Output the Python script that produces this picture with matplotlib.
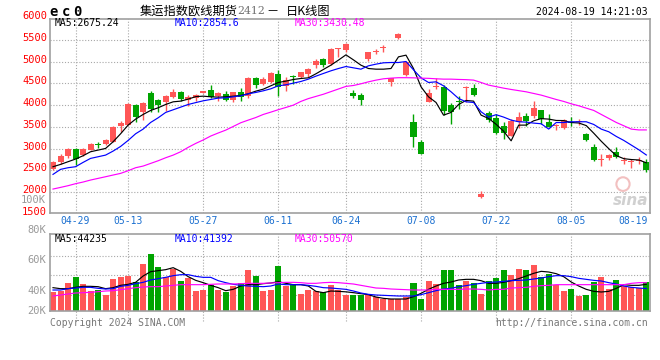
import matplotlib
matplotlib.use("Agg")
import matplotlib.pyplot as plt
import numpy as np
from matplotlib.transforms import blended_transform_factory, offset_copy
from matplotlib.patches import Ellipse

# ---------------- data ----------------
dates = ['04-24', '04-25', '04-26', '04-29', '04-30', '05-06', '05-07', '05-08', '05-09', '05-10',
         '05-13', '05-14', '05-15', '05-16', '05-17', '05-20', '05-21', '05-22', '05-23', '05-24',
         '05-27', '05-28', '05-29', '05-30', '05-31', '06-03', '06-04', '06-05', '06-06', '06-07',
         '06-11', '06-12', '06-13', '06-14', '06-17', '06-18', '06-19', '06-20', '06-21', '06-24',
         '06-25', '06-26', '06-27', '06-28', '07-01', '07-02', '07-03', '07-04', '07-05', '07-08',
         '07-09', '07-10', '07-11', '07-12', '07-15', '07-16', '07-17', '07-18', '07-19', '07-22',
         '07-23', '07-24', '07-25', '07-26', '07-29', '07-30', '07-31', '08-01', '08-02', '08-05',
         '08-06', '08-07', '08-08', '08-09', '08-12', '08-13', '08-14', '08-15', '08-16', '08-19']

opens = [2540, 2700, 2837, 2990, 2852, 2975, 3105, 3105, 3158, 3510,
         3541, 4000, 3847, 4275, 4107, 4061, 4191, 4306, 4122, 4153,
         4275, 4337, 4199, 4260, 4122, 4291, 4199, 4612, 4474, 4535,
         4719, 4428, 4673, 4643, 4719, 4918, 5056, 4949, 5293, 5255,
         4275, 4230, 5071, 5232, 5324, 4520, 5545, 4688, 3602, 3158,
         4076, 4428, 4413, 4000, 4099, 4390, 4398, 1889, 3816, 3709,
         3510, 3296, 3602, 3755, 3755, 3878, 3602, 3518, 3465, 3618,
         3610, 3342, 3036, 2745, 2791, 2914, 2730, 2700, 2730, 2700]
highs = [2715, 2868, 3021, 3021, 3005, 3128, 3158, 3220, 3510, 3633,
         4046, 4031, 4061, 4321, 4138, 4230, 4367, 4321, 4230, 4260,
         4330, 4459, 4306, 4321, 4306, 4382, 4650, 4643, 4643, 4765,
         4796, 4643, 4688, 4765, 4857, 5071, 5086, 5316, 5316, 5423,
         4337, 4275, 5224, 5300, 5392, 4627, 5668, 5010, 3801, 3204,
         4367, 4612, 4459, 4046, 4214, 4444, 4490, 2026, 3862, 3801,
         3618, 3679, 3832, 3816, 4092, 3893, 3801, 3572, 3679, 3725,
         3679, 3357, 3113, 2883, 2868, 3036, 2807, 2761, 2807, 2761]
lows = [2500, 2654, 2776, 2623, 2822, 2960, 3005, 3082, 3143, 3388,
        3535, 3618, 3663, 3847, 3832, 3870, 4168, 4092, 3985, 4092,
        4268, 4168, 4092, 4092, 4061, 4092, 4153, 4382, 4459, 4505,
        4199, 4321, 4474, 4612, 4643, 4857, 4887, 4933, 5117, 5224,
        4168, 4000, 5025, 5163, 5209, 4428, 5530, 4660, 3044, 2870,
        4061, 4367, 3770, 3572, 3908, 4076, 4199, 1858, 3602, 3342,
        3220, 3281, 3465, 3510, 3694, 3557, 3495, 3419, 3449, 3510,
        3541, 3174, 2715, 2608, 2745, 2791, 2638, 2562, 2654, 2470]
closes = [2700, 2822, 2990, 2761, 2990, 3113, 3090, 3197, 3495, 3595,
          4031, 3732, 4046, 3908, 4000, 4214, 4291, 4138, 4184, 4230,
          4321, 4184, 4275, 4107, 4291, 4184, 4627, 4459, 4597, 4734,
          4413, 4566, 4658, 4750, 4841, 5025, 4918, 5300, 5300, 5408,
          4214, 4122, 5209, 5247, 5331, 4612, 5637, 4994, 3266, 2883,
          4275, 4444, 3862, 3847, 4084, 4413, 4230, 1965, 3663, 3357,
          3357, 3633, 3725, 3633, 3923, 3679, 3495, 3526, 3663, 3595,
          3625, 3204, 2745, 2761, 2852, 2807, 2741, 2710, 2741, 2501]

ma5 = [2585, 2638, 2700, 2761, 2837, 2929, 2967, 3005, 3158, 3342,
       3541, 3679, 3786, 3878, 3939, 4015, 4076, 4092, 4138, 4195,
       4206, 4191, 4184, 4191, 4206, 4222, 4260, 4321, 4367, 4444,
       4520, 4551, 4589, 4612, 4627, 4719, 4819, 4918, 5033, 5155,
       5040, 4918, 4841, 4826, 4826, 4841, 5109, 5148, 4841, 4421,
       4191, 4061, 3770, 3832, 4015, 4107, 4092, 3770, 3694, 3560,
       3400, 3180, 3540, 3541, 3640, 3690, 3679, 3648, 3645, 3600,
       3590, 3530, 3355, 3170, 3000, 2840, 2770, 2750, 2740, 2675.24]
ma10 = [2409, 2524, 2562, 2585, 2684, 2776, 2814, 2852, 2944, 3051,
        3189, 3342, 3449, 3602, 3709, 3832, 3893, 3954, 4015, 4058,
        4099, 4130, 4161, 4168, 4191, 4214, 4260, 4291, 4329, 4375,
        4444, 4467, 4505, 4543, 4597, 4665, 4727, 4788, 4841, 4887,
        4857, 4826, 4903, 4941, 4972, 4979, 4979, 5002, 4811, 4627,
        4520, 4535, 4444, 4306, 4153, 4076, 4061, 3847, 3725, 3780,
        3725, 3656, 3618, 3610, 3587, 3572, 3450, 3600, 3600, 3618,
        3618, 3618, 3556, 3449, 3388, 3281, 3189, 3082, 2975, 2854.6]
ma30 = [2072, 2110, 2149, 2195, 2233, 2279, 2317, 2355, 2394, 2432,
        2493, 2562, 2600, 2661, 2722, 2791, 2852, 2929, 3030, 3120,
        3200, 3290, 3360, 3426, 3510, 3595, 3656, 3715, 3786, 3839,
        3895, 3946, 4000, 4085, 4150, 4200, 4250, 4310, 4370, 4430,
        4451, 4490, 4535, 4574, 4605, 4620, 4630, 4630, 4627, 4620,
        4615, 4605, 4597, 4597, 4590, 4585, 4575, 4520, 4460, 4425,
        4390, 4360, 4333, 4306, 4268, 4230, 4180, 4130, 4085, 4030,
        3985, 3931, 3878, 3786, 3694, 3602, 3526, 3449, 3430, 3430.48]

volumes = [39470, 39800, 45290, 49260, 44560, 39930, 40460, 37290, 47870, 49260,
           49850, 45750, 57790, 64400, 55800, 49260, 54680, 46610, 48070, 40000,
           40600, 43900, 40600, 39470, 43300, 45090, 53820, 49920, 39800, 40600,
           56530, 43240, 44430, 37950, 40600, 39800, 39140, 43770, 40600, 37290,
           37290, 37290, 37290, 36160, 34510, 34510, 34840, 36030, 45220, 34510,
           46420, 44430, 53690, 53690, 43770, 46420, 45090, 37950, 46420, 48270,
           53690, 50520, 54350, 53690, 57000, 48860, 51040, 43440, 39930, 41120,
           36630, 37290, 45620, 49260, 41120, 47080, 42910, 42250, 41460, 45620]
vol_ma5 = [42002, 41340, 41340, 42222, 42884, 42884, 42663, 41340, 42002, 43545,
           44207, 45530, 49719, 52586, 53247, 53909, 55232, 52806, 49278, 46852,
           45309, 43545, 42002, 40017, 40899, 43104, 43986, 43986, 44647, 45088,
           45971, 44868, 43986, 43986, 43104, 39576, 38694, 39796, 39576, 39250,
           38694, 38032, 37371, 35828, 34945, 34505, 34505, 34505, 36048, 38253,
           40899, 43104, 44868, 45750, 47073, 47514, 47514, 46632, 44868, 44868,
           45530, 46632, 47955, 49719, 51483, 52806, 52365, 51263, 49278, 45750,
           43104, 40899, 39576, 39135, 39576, 41561, 43986, 43545, 43545, 44235]
vol_ma10 = [40458, 40458, 41340, 41781, 42222, 42222, 41561, 41120, 41340, 42884,
            43545, 44647, 45530, 47073, 47955, 48837, 49940, 50601, 50601, 49499,
            48837, 48837, 46632, 45309, 44207, 43545, 43104, 42884, 42663, 43104,
            44427, 43986, 43986, 43986, 43545, 42884, 42002, 41781, 41340, 40899,
            39796, 38473, 37592, 37150, 36930, 36709, 36489, 36489, 36489, 37371,
            38694, 40017, 41120, 41561, 42663, 43325, 44207, 44868, 45530, 45750,
            46191, 46632, 46852, 47073, 47735, 48396, 49278, 49940, 49940, 49278,
            48176, 47514, 46852, 46412, 45309, 44427, 43104, 42222, 41781, 41392]
vol_ma30 = [36489, 37150, 37812, 38473, 38694, 38915, 39356, 39796, 40017, 40679,
            41340, 42002, 42443, 42663, 42663, 43104, 43545, 43986, 43986, 43986,
            43986, 44207, 44427, 44427, 44427, 44647, 44868, 44868, 44868, 45088,
            45309, 45530, 45530, 45309, 44868, 44868, 45309, 45530, 45309, 44868,
            44427, 43545, 42663, 41781, 41561, 41120, 40899, 40679, 40458, 40458,
            40458, 40899, 40899, 40899, 40899, 41120, 41120, 40899, 40458, 40899,
            40899, 41781, 42002, 42222, 42884, 43325, 43545, 43986, 43986, 43986,
            43986, 43986, 43986, 43986, 43986, 43986, 43986, 44868, 45309, 45309]

tick_dates = ['04-29', '05-13', '05-27', '06-11', '06-24', '07-08', '07-22', '08-05', '08-19']
price_labels = [6000, 5500, 5000, 4500, 4000, 3500, 3000, 2500, 2000, 1500]
price_grid = [5500, 5000, 4500, 4000, 3500, 3000, 2500, 2000]
vol_label_values = [100000, 80000, 60000, 40000]
vol_label_texts = ['100K', '80K', '60K', '40K']
vol_bottom_label = '20K'

price_header = ['MA5:2675.24', 'MA10:2854.6', 'MA30:3430.48']
vol_header = ['MA5:44235', 'MA10:41392', 'MA30:50570']
symbol = 'ec0'
title_main = '集运指数欧线期货'
title_code = '2412'
title_dash = '－'
title_tail = '日K线图'
timestamp = '2024-08-19 14:21:03'
copyright_text = 'Copyright 2024 SINA.COM'
url_text = 'http://finance.sina.com.cn'

# ---------------- style ----------------
RED = '#FF5656'
GREEN = '#00A400'
LINE_COLORS = ['#000000', '#0000FF', '#FF00FF']
GRID = '#A8A8A8'
GRID_LS = (0, (1, 1.6))
BORDER = '#A0A0A0'
MONO = 'DejaVu Sans Mono'
CJK = ['Noto Sans CJK SC', 'DejaVu Sans']
LW = 0.85

W, H = 660, 360
fig = plt.figure(figsize=(W / 100, H / 100), dpi=100)
fig.patch.set_facecolor('white')


def rect(l, t, r, b):
    return [l / W, 1 - b / H, (r - l) / W, (b - t) / H]


ax = fig.add_axes(rect(50, 18.5, 650, 213.3))
axv = fig.add_axes(rect(50, 234.3, 650, 310.7))

x = np.arange(len(dates))
o = np.array(opens, float)
hi = np.array(highs, float)
lo = np.array(lows, float)
c = np.array(closes, float)
up = c >= o
cols = np.where(up, RED, GREEN)

YMIN, YMAX = 1515, 5990
XMIN, XMAX = -0.4, 79.49

# gridlines
tick_idx = [dates.index(d) for d in tick_dates]
for v in price_grid:
    ax.axhline(v, color=GRID, lw=0.8, ls=GRID_LS, zorder=0)
for i in tick_idx[:-1]:
    ax.axvline(i, color=GRID, lw=0.8, ls=GRID_LS, zorder=0)
    axv.axvline(i, ymin=-0.14, ymax=1, color=GRID, lw=0.8, ls=GRID_LS, zorder=0, clip_on=False)

# watermark
ax.text(0.968, 0.065, 'sina', transform=ax.transAxes, ha='center', va='center',
        fontsize=11, fontweight='bold', style='italic', color='#D0D0D0', zorder=0.5,
        family='DejaVu Sans')
ax.add_patch(Ellipse((0.955, 0.15), 0.022, 0.07, transform=ax.transAxes, fill=False,
                     edgecolor='#F2C0C0', lw=1.5, zorder=0.5))

# candles
ax.vlines(x, lo, hi, colors=cols, lw=1.0, zorder=2)
min_h = 20.0
raw = np.abs(c - o)
body_h = np.maximum(raw, min_h)
body_b = np.minimum(o, c) - (body_h - raw) / 2
ax.bar(x, body_h, bottom=body_b, width=0.8, color=cols, lw=0, zorder=2)

for series, col in zip([ma5, ma10, ma30], LINE_COLORS):
    ax.plot(x, series, color=col, lw=LW, zorder=3)

ax.set_xlim(XMIN, XMAX)
ax.set_ylim(YMIN, YMAX)

# volume
VMIN, VMAX = 26772, 77302
axv.bar(x, volumes, width=0.8, color=cols, lw=0, zorder=2)
for series, col in zip([vol_ma5, vol_ma10, vol_ma30], LINE_COLORS):
    axv.plot(x, series, color=col, lw=LW, zorder=3)
axv.set_xlim(XMIN, XMAX)
axv.set_ylim(VMIN, VMAX)
for f in [0.72, 0.467, 0.205]:
    axv.axhline(VMIN + f * (VMAX - VMIN), color=GRID, lw=0.8, ls=GRID_LS, zorder=0)

for a in (ax, axv):
    a.set_xticks([])
    a.set_yticks([])
    a.set_facecolor('white')
    for s in a.spines.values():
        s.set_color(BORDER)
        s.set_linewidth(1.2)

# price labels
tp = offset_copy(blended_transform_factory(fig.transFigure, ax.transData), fig=fig, x=0, y=2, units='dots')
for v in price_labels:
    ax.text(47 / W, v, str(v), transform=tp, ha='right', va='center', color='#FF0000',
            fontsize=7.5, family=MONO, clip_on=False)

# volume labels
tv = blended_transform_factory(fig.transFigure, axv.transData)
for v, t in zip(vol_label_values, vol_label_texts):
    axv.text(46 / W, v, t, transform=tv, ha='right', va='center', color='#999999',
             fontsize=7.5, family=MONO, clip_on=False)
axv.text(46 / W, VMIN, vol_bottom_label, transform=tv, ha='right', va='center', color='#999999',
         fontsize=7.5, family=MONO, clip_on=False)

# date labels
td = blended_transform_factory(ax.transData, fig.transFigure)
for i, d in zip(tick_idx, tick_dates):
    if i == len(dates) - 1:
        fig.text(648 / W, 1 - 221 / H, d, ha='right', va='center', color='#1a6fd0',
                 fontsize=7, family=MONO)
    else:
        ax.text(i, 1 - 221 / H, d, transform=td, ha='center', va='center', color='#1a6fd0',
                fontsize=7, family=MONO, clip_on=False)

# headers
for xpos, txt, col in zip([55, 175, 295], price_header, LINE_COLORS):
    fig.text(xpos / W, 1 - 23.5 / H, txt, ha='left', va='center', color=col, fontsize=7, family=MONO)
for xpos, txt, col in zip([55, 175, 295], vol_header, LINE_COLORS):
    fig.text(xpos / W, 1 - 238.5 / H, txt, ha='left', va='center', color=col, fontsize=7, family=MONO)

# title row
sym_x = [49, 61.5, 73]
for ch, sx in zip(symbol, sym_x):
    fig.text(sx / W, 1 - 12 / H, ch, ha='left', va='center', color='black', fontsize=10,
             family=MONO, fontweight='bold')
fig.text(140 / W, 1 - 11 / H, title_main, ha='left', va='center', color='black', fontsize=8.8, family=CJK)
fig.text(237 / W, 1 - 11 / H, title_code, ha='left', va='center', color='#707070', fontsize=7.8,
         family='DejaVu Serif')
fig.text(266 / W, 1 - 11 / H, title_dash, ha='left', va='center', color='black', fontsize=8.8, family=CJK)
fig.text(286 / W, 1 - 11 / H, title_tail, ha='left', va='center', color='black', fontsize=8.8, family=CJK)
fig.text(648 / W, 1 - 11.7 / H, timestamp, ha='right', va='center', color='black', fontsize=7, family=MONO)

# footer
fig.text(50 / W, 1 - 323.5 / H, copyright_text, ha='left', va='center', color='#777777', fontsize=7, family=MONO)
fig.text(648 / W, 1 - 323.5 / H, url_text, ha='right', va='center', color='#777777', fontsize=7, family=MONO)

fig.savefig('out.png', dpi=100, facecolor='white')
